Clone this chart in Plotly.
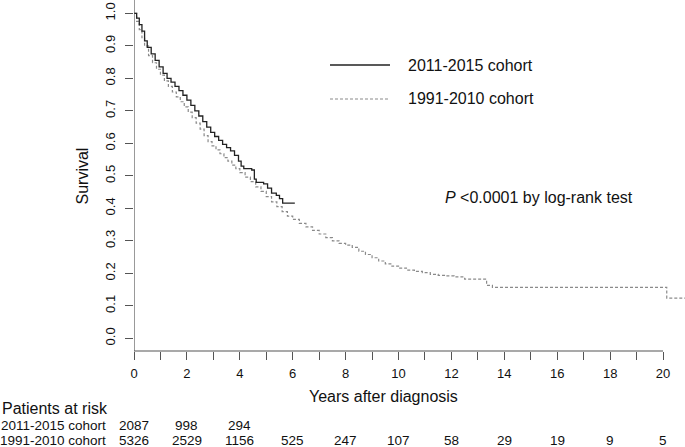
import plotly.graph_objects as go

# ---- data ----
new_time = [0.00, 0.10, 0.20, 0.30, 0.40, 0.50, 0.65, 0.80, 0.95, 1.10, 1.25, 1.40, 1.55, 1.70,
            1.85, 2.00, 2.15, 2.30, 2.45, 2.60, 2.75, 2.90, 3.05, 3.20, 3.35, 3.50, 3.65, 3.80,
            3.95, 4.05, 4.15, 4.45, 4.55, 4.62, 4.90, 5.05, 5.20, 5.38, 5.50, 5.62, 6.08]
new_surv = [1.000, 0.985, 0.965, 0.945, 0.915, 0.895, 0.875, 0.855, 0.835, 0.815, 0.800, 0.788,
            0.775, 0.762, 0.748, 0.733, 0.717, 0.700, 0.684, 0.667, 0.650, 0.634, 0.621, 0.609,
            0.597, 0.587, 0.577, 0.563, 0.545, 0.530, 0.522, 0.518, 0.490, 0.480, 0.475, 0.462,
            0.447, 0.440, 0.430, 0.416, 0.416]

old_time = [0.00, 0.10, 0.20, 0.30, 0.40, 0.55, 0.70, 0.85, 1.00, 1.15, 1.30, 1.45, 1.60, 1.75,
            1.90, 2.05, 2.20, 2.35, 2.50, 2.65, 2.80, 2.95, 3.10, 3.25, 3.40, 3.55, 3.70, 3.85,
            4.00, 4.20, 4.40, 4.60, 4.80, 5.00, 5.20, 5.40, 5.60, 5.80, 6.00, 6.25, 6.50, 6.75,
            7.00, 7.25, 7.50, 7.75, 8.00, 8.25, 8.50, 8.75, 9.00, 9.25, 9.50, 9.75, 10.00, 10.30,
            10.60, 10.90, 11.20, 11.50, 11.80, 12.10, 12.50, 13.33, 13.55, 20.14, 20.83]
old_surv = [1.000, 0.975, 0.950, 0.925, 0.900, 0.870, 0.848, 0.828, 0.810, 0.792, 0.775, 0.758,
            0.743, 0.728, 0.712, 0.696, 0.679, 0.662, 0.644, 0.624, 0.605, 0.592, 0.580, 0.568,
            0.556, 0.545, 0.533, 0.522, 0.510, 0.496, 0.482, 0.466, 0.452, 0.436, 0.420, 0.405,
            0.390, 0.376, 0.366, 0.354, 0.343, 0.332, 0.321, 0.310, 0.300, 0.292, 0.287, 0.280,
            0.268, 0.258, 0.248, 0.238, 0.229, 0.222, 0.216, 0.210, 0.206, 0.202, 0.197, 0.194,
            0.192, 0.189, 0.182, 0.163, 0.157, 0.124, 0.124]

risk_times = [0, 2, 4, 6, 8, 10, 12, 14, 16, 18, 20]
risk_new = [2087, 998, 294]
risk_old = [5326, 2529, 1156, 525, 247, 107, 58, 29, 19, 9, 5]

x_tickvals = list(range(0, 21))
x_ticktext = [str(v) if v % 2 == 0 else "" for v in x_tickvals]
y_tickvals = [0.0, 0.1, 0.2, 0.3, 0.4, 0.5, 0.6, 0.7, 0.8, 0.9, 1.0]
y_ticktext = ["0.0", "0.1", "0.2", "0.3", "0.4", "0.5", "0.6", "0.7", "0.8", "0.9", "1.0"]

label_new = "2011-2015 cohort"
label_old = "1991-2010 cohort"

FONT = "Liberation Sans, Arial, sans-serif"
TXT = "#111111"
AX = "#555555"

fig = go.Figure()
fig.add_trace(go.Scatter(x=old_time, y=old_surv, mode="lines", line_shape="hv",
                         line=dict(color="#8a8a8a", width=1.2, dash="3px,2px"),
                         name=label_old, showlegend=False, cliponaxis=False))
fig.add_trace(go.Scatter(x=new_time, y=new_surv, mode="lines", line_shape="hv",
                         line=dict(color="#222222", width=1.3),
                         name=label_new, showlegend=False, cliponaxis=False))

XMAX = 20.83
YMIN, YMAX = -0.039, 1.041

fig.update_layout(
    width=685, height=447,
    margin=dict(l=134, r=0, t=0, b=96),
    paper_bgcolor="white", plot_bgcolor="white",
    font=dict(family=FONT, color=TXT, size=13),
    xaxis=dict(range=[0, XMAX], tickvals=x_tickvals, ticktext=x_ticktext,
               ticks="outside", ticklen=8, tickcolor=AX, tickwidth=1,
               showline=False, showgrid=False, zeroline=False,
               tickfont=dict(size=13, color=TXT), ticklabelstandoff=2),
    yaxis=dict(range=[YMIN, YMAX], tickvals=y_tickvals, ticktext=y_ticktext,
               ticks="outside", ticklen=8, tickcolor=AX, tickwidth=1,
               showline=False, showgrid=False, zeroline=False, tickangle=-90,
               tickfont=dict(size=13, color=TXT), ticklabelstandoff=5),
)

# axis lines (R style)
fig.add_shape(type="line", xref="x", yref="paper", x0=0, x1=0, y0=0, y1=1,
              line=dict(color=AX, width=1.2))
fig.add_shape(type="line", xref="x", yref="paper", x0=0, x1=20, y0=0, y1=0,
              line=dict(color=AX, width=1.2))

# legend
fig.add_shape(type="line", xref="paper", yref="paper", x0=0.3557, x1=0.4646, y0=0.8148, y1=0.8148,
              line=dict(color="#222222", width=1.3))
fig.add_shape(type="line", xref="paper", yref="paper", x0=0.3557, x1=0.4646, y0=0.718, y1=0.718,
              line=dict(color="#8a8a8a", width=1.2, dash="3px,2px"))
fig.add_annotation(xref="paper", yref="paper", x=0.4936, y=0.8148, text=label_new,
                   showarrow=False, xanchor="left", yanchor="middle", font=dict(size=16))
fig.add_annotation(xref="paper", yref="paper", x=0.4936, y=0.718, text=label_old,
                   showarrow=False, xanchor="left", yanchor="middle", font=dict(size=16))
fig.add_annotation(xref="paper", yref="paper", x=0.5608, y=0.4359,
                   text="<i>P</i> &lt;0.0001 by log-rank test",
                   showarrow=False, xanchor="left", yanchor="middle", font=dict(size=16))

# axis titles
fig.add_annotation(xref="paper", yref="paper", x=0.452, y=-0.131, text="Years after diagnosis",
                   showarrow=False, xanchor="center", yanchor="middle", font=dict(size=16))
fig.add_annotation(xref="paper", yref="paper", x=-0.0926, y=0.5, text="Survival", textangle=-90,
                   showarrow=False, xanchor="center", yanchor="middle", font=dict(size=16))

# risk table
fig.add_annotation(xref="paper", yref="paper", x=-0.2432, y=-0.165, text="Patients at risk",
                   showarrow=False, xanchor="left", yanchor="middle", font=dict(size=16))
fig.add_annotation(xref="paper", yref="paper", x=-0.0472, y=-0.211, text=label_new,
                   showarrow=False, xanchor="right", yanchor="middle", font=dict(size=13.5))
fig.add_annotation(xref="paper", yref="paper", x=-0.0472, y=-0.2536, text=label_old,
                   showarrow=False, xanchor="right", yanchor="middle", font=dict(size=13.5))
for t, n in zip(risk_times, risk_new):
    fig.add_annotation(xref="x", yref="paper", x=t, y=-0.211, text=str(n),
                       showarrow=False, xanchor="center", yanchor="middle", font=dict(size=13.5))
for t, n in zip(risk_times, risk_old):
    fig.add_annotation(xref="x", yref="paper", x=t, y=-0.2536, text=str(n),
                       showarrow=False, xanchor="center", yanchor="middle", font=dict(size=13.5))

fig.write_html("out.html", config={"displayModeBar": False},
               post_script="document.body.style.margin='0';")
